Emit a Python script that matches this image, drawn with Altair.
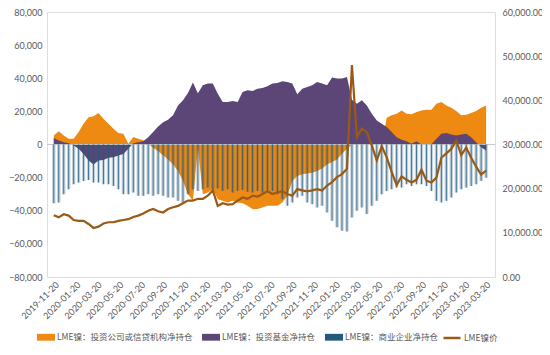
import altair as alt
import pandas as pd

# ---------------- data (biweekly, from 2019-11-19) ----------------
start_date = "2019-11-19"

invest_firm = [5500, 8000, 5500, 3500, 3500, 7500, 12500, 16500, 17000, 19000,
               15500, 12500, 9500, 7000, 6500, 500, 4500, 3500, 2500, 500,
               -2000, -4000, -6500, -9000, -12000, -16000, -22000, -30000, -34000, -2000,
               -30000, -29000, -27000, -33000, -34000, -35000, -34000, -35000, -35500, -37000,
               -39000, -39000, -38000, -37000, -37000, -37000, -35000, -31000, -22000, -19000,
               -18000, -17500, -17000, -16000, -14500, -12000, -10500, -9000, -5600, -2500,
               0, 0, 0, 0, 0, 0, 0, 16200, 17600, 18600,
               20600, 18600, 18200, 19600, 20600, 21000, 21000, 24600, 25600, 23600,
               22200, 20200, 17600, 18000, 19000, 20200, 22200, 23600]

invest_fund = [4000, 2400, 1400, 800, -600, -2600, -5700, -9700, -12000, -9700,
               -9300, -8000, -7700, -6700, -5700, -2600, 800, 1400, 2000, 4400,
               7500, 10900, 13500, 15000, 17600, 23600, 26700, 31100, 37500, 31000,
               35800, 36800, 36800, 30700, 25600, 25600, 26300, 25600, 31700, 32700,
               32300, 33700, 34100, 35100, 36800, 37200, 38200, 37800, 36800, 30300,
               33700, 34700, 35800, 37800, 36800, 35800, 40400, 39800, 39800, 40800,
               27000, 24600, 26700, 23600, 18600, 14500, 12500, 10500, 7500, 4400,
               2800, 2000, 400, 2000, 0, 0, 200, 3400, 6500, 6900,
               6100, 5500, 6100, 6500, 4400, 1400, -1600, -3600]

commercial = [-35500, -35000, -30000, -27000, -24000, -23000, -22000, -21500, -23000, -23000,
              -24000, -24000, -25000, -27000, -30000, -30000, -29000, -31000, -31000, -30000,
              -31000, -30000, -31000, -32000, -32000, -34000, -35000, -30000, -27000, -28000,
              -27000, -26000, -27000, -26500, -28000, -27000, -29000, -28000, -27500, -28500,
              -29000, -28000, -29000, -28000, -28000, -30000, -33000, -37000, -35000, -32000,
              -31000, -35000, -36000, -38000, -37000, -41000, -46000, -50000, -52000, -52500,
              -44000, -40000, -38000, -42000, -37000, -34000, -30000, -28000, -27000, -26000,
              -26000, -24000, -25000, -24000, -24000, -25000, -28000, -34000, -35000, -34000,
              -32000, -29000, -27000, -26000, -25000, -24000, -22000, -20000]

price = [14000, 13500, 14200, 13900, 12900, 12700, 12700, 12000, 11100, 11400,
         12100, 12400, 12400, 12700, 12900, 13100, 13600, 13900, 14400, 15000,
         15400, 14900, 14600, 15400, 15800, 16100, 16700, 17300, 17300, 17700,
         17700, 18400, 19600, 16100, 16700, 16400, 16500, 17300, 18000, 17700,
         18400, 18200, 18800, 19400, 18800, 19200, 19400, 18800, 18400, 19900,
         19600, 19400, 19600, 19900, 19600, 20700, 21500, 22600, 23300, 24500,
         48000, 31700, 33600, 32800, 29800, 26400, 29600, 27100, 23800, 20800,
         22800, 22000, 21400, 22000, 24300, 21800, 21400, 22500, 27000, 28000,
         29000, 30900, 27600, 29300, 27000, 25000, 23200, 24100]

series_names = ["LME镍：投资公司或信贷机构净持仓", "LME镍：投资基金净持仓", "LME镍：商业企业净持仓"]
price_name = "LME镍价"
series_colors = ["#EE8A12", "#5B4677", "#235A7E"]
price_color = "#9A5A16"

left_ticks = list(range(-80000, 80001, 20000))
right_ticks = list(range(0, 60001, 10000))
x_tick_dates = ["2019-11-20", "2020-01-20", "2020-03-20", "2020-05-20", "2020-07-20",
                "2020-09-20", "2020-11-20", "2021-01-20", "2021-03-20", "2021-05-20",
                "2021-07-20", "2021-09-20", "2021-11-20", "2022-01-20", "2022-03-20",
                "2022-05-20", "2022-07-20", "2022-09-20", "2022-11-20", "2023-01-20",
                "2023-03-20"]
x_domain = ["2019-11-14", "2023-04-01"]

# ---------------- build tables ----------------
dates = pd.date_range(start_date, periods=len(price), freq="14D").strftime("%Y-%m-%d")
wide = pd.DataFrame({"date": dates, "price": price})
long = pd.concat([
    pd.DataFrame({"date": dates, "series": series_names[i], "value": vals})
    for i, vals in enumerate([invest_firm, invest_fund, commercial])
])


def ms(s):
    return int(pd.Timestamp(s, tz="UTC").timestamp() * 1000)


xenc = alt.X("date:T",
             scale=alt.Scale(type="utc", domain=[ms(d) for d in x_domain]),
             axis=alt.Axis(values=[ms(d) for d in x_tick_dates], format="%Y-%m-%d",
                           labelAngle=-45, title=None, grid=False, domain=False,
                           ticks=False, labelOverlap=False, labelFlush=False,
                           labelPadding=3, labelFontSize=9, labelColor="#595959",
                           labelFont="Lato"))

yscale = alt.Scale(domain=[-80000, 80000], nice=False)
yaxis = alt.Axis(values=left_ticks, format=",.0f", title=None, grid=False, domain=False,
                 ticks=False, labelPadding=5, labelFontSize=9, labelColor="#595959",
                 labelFont="Lato", labelOverlap=False)

fill_enc = alt.Fill("series:N",
                    scale=alt.Scale(domain=series_names, range=series_colors),
                    legend=alt.Legend(orient="none", legendX=-10, legendY=316,
                                      direction="horizontal", title=None,
                                      symbolType="M-1,-0.38H1V0.38H-1Z",
                                      symbolSize=324, symbolStrokeWidth=0,
                                      symbolOpacity=1, labelOffset=2,
                                      columnPadding=9, labelFontSize=8.5,
                                      labelFont="Noto Sans CJK SC",
                                      labelColor="#595959"))


def yq():
    return alt.Y("value:Q", scale=yscale, axis=yaxis, stack=None)


base = alt.Chart(long)

area_firm = base.transform_filter(alt.datum.series == series_names[0]).mark_area(
    interpolate="linear", opacity=1).encode(x=xenc, y=yq(), fill=fill_enc)

area_fund = base.transform_filter(alt.datum.series == series_names[1]).mark_area(
    interpolate="linear", opacity=1).encode(x=xenc, y=yq(), fill=fill_enc)

zero_rule = alt.Chart(wide).mark_rule(color="#C8C8C8", strokeWidth=1).encode(
    y=alt.YDatum(0, scale=yscale, axis=yaxis))

bars_light = base.transform_filter(alt.datum.series == series_names[2]).mark_bar(
    width=3.4, opacity=0.28).encode(x=xenc, y=yq(), fill=fill_enc)

bars_dark = base.transform_filter(alt.datum.series == series_names[2]).mark_bar(
    width=0.9, opacity=0.85).encode(x=xenc, y=yq(), fill=fill_enc)

left = alt.layer(area_firm, area_fund, zero_rule, bars_light, bars_dark)

price_line = alt.Chart(wide).transform_calculate(pname=f"'{price_name}'").mark_line(
    strokeWidth=2.2, interpolate="linear").encode(
    x=xenc,
    y=alt.Y("price:Q", scale=alt.Scale(domain=[0, 60000], nice=False),
            axis=alt.Axis(orient="right", values=right_ticks, format=",.2f", title=None,
                          grid=False, domain=False, ticks=False, labelPadding=7,
                          labelFontSize=9, labelColor="#595959", labelFont="Lato",
                          labelOverlap=False)),
    stroke=alt.Stroke("pname:N", scale=alt.Scale(domain=[price_name], range=[price_color]),
                      legend=alt.Legend(orient="none", legendX=395, legendY=316,
                                        direction="horizontal", title=None,
                                        symbolType="stroke", symbolSize=289,
                                        symbolStrokeWidth=2.5, labelOffset=2,
                                        labelFontSize=8.5, labelFont="Noto Sans CJK SC",
                                        labelColor="#595959")))

chart = alt.layer(left, price_line).resolve_scale(y="independent").properties(
    width=448, height=265,
    padding={"left": 39, "top": 4, "right": 47, "bottom": 70},
    autosize=alt.AutoSizeParams(type="none"),
).configure_view(stroke=None).configure(background="white")

chart.save("out.html", embed_options={"renderer": "svg", "actions": False})
